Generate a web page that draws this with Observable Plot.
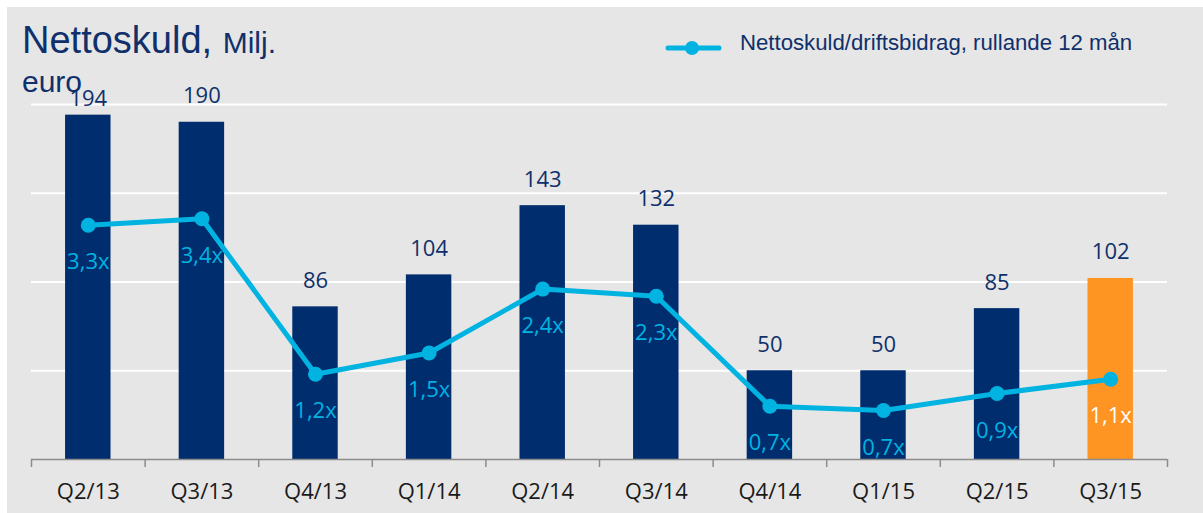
<!DOCTYPE html>
<html>
<head>
<meta charset="utf-8">
<script src="https://cdn.jsdelivr.net/npm/d3@7"></script>
<script src="https://cdn.jsdelivr.net/npm/@observablehq/plot@0.6"></script>
<style>
  html, body { margin: 0; padding: 0; background: #ffffff; }
  #wrap { position: relative; width: 1203px; height: 513px; overflow: hidden; background: #ffffff; }
  #bg { position: absolute; left: 7px; top: 7px; right: 0; bottom: 0; background: #e6e6e6; }
  #chart { position: absolute; left: 0; top: 0; }
  .title { position: absolute; left: 22px; font-family: "Liberation Sans", Arial, sans-serif; color: #0f306b; line-height: 1; white-space: nowrap; }
  #t1 { top: 21px; font-size: 38px; }
  #t1 span { font-size: 30px; }
  #t2 { top: 67px; font-size: 30px; }
  #legend { position: absolute; left: 665px; top: 31px; height: 26px; font-family: "Liberation Sans", Arial, sans-serif; font-size: 22.2px; line-height: 1; color: #0f306b; white-space: nowrap; }
  #legend svg { position: absolute; left: 0; top: 8px; }
  #legend div { position: absolute; left: 75px; top: 1px; }
</style>
</head>
<body>
<div id="wrap">
  <div id="bg"></div>
  <div id="chart"></div>
  <div class="title" id="t1">Nettoskuld, <span>Milj.</span></div>
  <div class="title" id="t2">euro</div>
  <div id="legend">
    <svg width="60" height="20"><line x1="3" x2="54" y1="9" y2="9" stroke="#00b3e1" stroke-width="5" stroke-linecap="round"/><circle cx="27" cy="9" r="7" fill="#00b3e1"/></svg>
    <div>Nettoskuld/driftsbidrag, rullande 12 mån</div>
  </div>
</div>
<script>
// ---- data ----
const categories = ["Q2/13", "Q3/13", "Q4/13", "Q1/14", "Q2/14", "Q3/14", "Q4/14", "Q1/15", "Q2/15", "Q3/15"];
const netDebt = [194, 190, 86, 104, 143, 132, 50, 50, 85, 102];
const ratio = [3.3, 3.39, 1.2, 1.5, 2.4, 2.3, 0.75, 0.69, 0.93, 1.13];
const ratioLabels = ["3,3x", "3,4x", "1,2x", "1,5x", "2,4x", "2,3x", "0,7x", "0,7x", "0,9x", "1,1x"];
const highlight = "Q3/15";
const gridValues = [50, 100, 150, 200];
const debtMax = 200;   // primary (hidden) axis max
const ratioMax = 5;    // secondary (hidden) axis max

// ---- style ----
const navy = "#002d6d";
const orange = "#fe9421";
const cyan = "#00b3e1";
const labelNavy = "#0f306b";
const axisGray = "#8c8c8c";

const data = categories.map((c, i) => ({
  cat: c,
  debt: netDebt[i],
  ratioY: ratio[i] * debtMax / ratioMax,
  rlabel: ratioLabels[i]
}));

const W = 1203, H = 513, ML = 31, MR = 36, MT = 104, MB = 54;
const pInner = 0.6, pOuter = 0.3;
const step = (W - ML - MR) / (categories.length - pInner + 2 * pOuter);
const font = "Open Sans, sans-serif";

const chart = Plot.plot({
  width: W, height: H,
  marginLeft: ML, marginRight: MR, marginTop: MT, marginBottom: MB,
  style: { background: "transparent", fontFamily: font, overflow: "visible" },
  x: { domain: categories, paddingInner: pInner, paddingOuter: pOuter, round: false, label: null },
  y: { domain: [0, debtMax], axis: null },
  marks: [
    Plot.ruleY(gridValues, { stroke: "#ffffff", strokeWidth: 2 }),
    Plot.barY(data, { filter: d => d.cat !== highlight, x: "cat", y: "debt", fill: navy }),
    Plot.barY(data, { filter: d => d.cat === highlight, x: "cat", y: "debt", fill: orange }),
    Plot.ruleY([0], { stroke: axisGray, strokeWidth: 1.5 }),
    Plot.axisX({ tickSize: 8, tickFormat: () => "", dx: -step / 2, stroke: axisGray, strokeWidth: 1.5, strokeOpacity: 1 }),
    Plot.axisX({ ticks: [categories[categories.length - 1]], tickSize: 8, tickFormat: () => "", dx: step / 2, stroke: axisGray, strokeWidth: 1.5, strokeOpacity: 1 }),
    Plot.axisX({ tickSize: 0, tickPadding: 24, fontSize: 22, fill: "#1a1a1a", fontFamily: font, label: null }),
    Plot.line(data, { x: "cat", y: "ratioY", stroke: cyan, strokeWidth: 5 }),
    Plot.dot(data, { x: "cat", y: "ratioY", r: 7.5, fill: cyan }),
    Plot.text(data, { filter: d => d.debt < 192, x: "cat", y: "debt", text: d => String(d.debt), dy: -26, fontSize: 22, fill: labelNavy }),
    Plot.text(data, { filter: d => d.debt >= 192, x: "cat", y: "debt", text: d => String(d.debt), dy: -16, fontSize: 22, fill: labelNavy }),
    Plot.text(data, { filter: d => d.cat !== highlight, x: "cat", y: "ratioY", text: "rlabel", dy: 37, fontSize: 22, fill: cyan }),
    Plot.text(data, { filter: d => d.cat === highlight, x: "cat", y: "ratioY", text: "rlabel", dy: 37, fontSize: 22, fill: "#ffffff" })
  ]
});
document.getElementById("chart").appendChild(chart);
</script>
</body>
</html>
